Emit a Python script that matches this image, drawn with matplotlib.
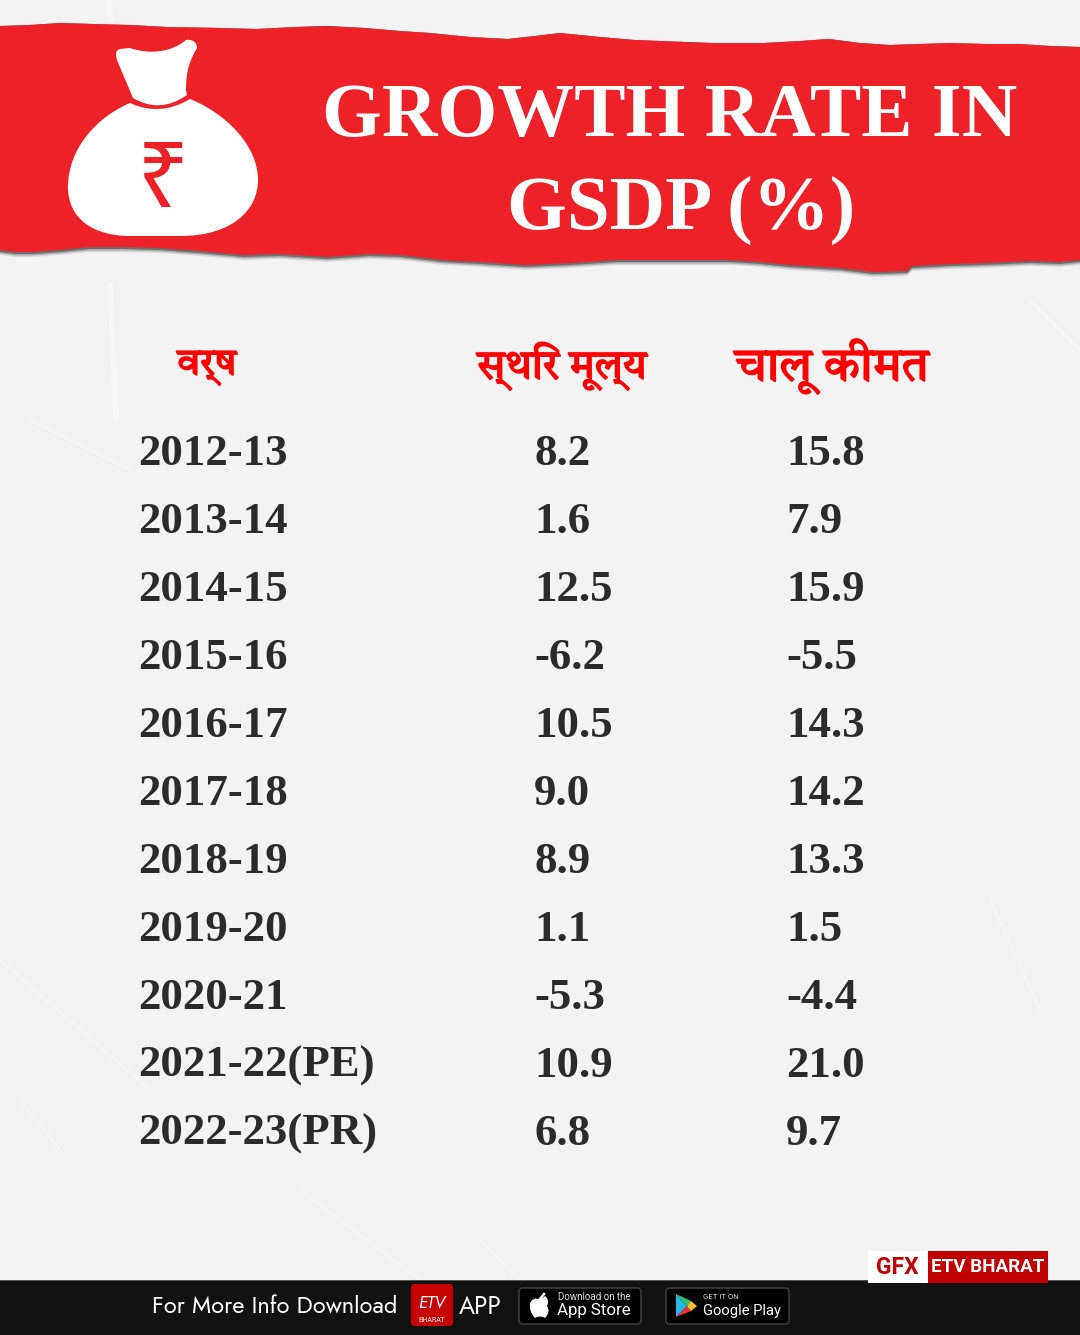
import matplotlib
matplotlib.use("Agg")
import matplotlib.pyplot as plt
import matplotlib.patheffects as pe
from matplotlib.patches import Polygon, PathPatch, Rectangle, FancyBboxPatch
from matplotlib.path import Path

# table data
years = ["2012-13", "2013-14", "2014-15", "2015-16", "2016-17", "2017-18",
         "2018-19", "2019-20", "2020-21", "2021-22(PE)", "2022-23(PR)"]
constant_price = ["8.2", "1.6", "12.5", "-6.2", "10.5", "9.0", "8.9", "1.1", "-5.3", "10.9", "6.8"]
current_price = ["15.8", "7.9", "15.9", "-5.5", "14.3", "14.2", "13.3", "1.5", "-4.4", "21.0", "9.7"]
col_headers = ["वर्ष", "स्थिर मूल्य", "चालू कीमत"]
title_lines = ["GROWTH RATE IN", "GSDP (%)"]

RED = "#ee2129"
DEVA = ["Tiro Devanagari Hindi", "Noto Sans Devanagari", "DejaVu Sans"]
SERIF = "Liberation Serif"
FUTURA = ["Jost", "Lato", "DejaVu Sans"]

fig = plt.figure(figsize=(10.8, 13.35), dpi=100, facecolor="#f3f3f3")
ax = fig.add_axes([0, 0, 1, 1])
ax.set_xlim(0, 1080)
ax.set_ylim(1335, 0)
ax.axis("off")

# faint scratches in the paper background
for x0, y0, x1, y1, w in [(0, 960, 150, 1090, 1.5), (110, 285, 116, 420, 4), (20, 1100, 60, 1150, 1.5),
                          (1030, 300, 1080, 350, 2), (300, 1190, 420, 1280, 1.5), (990, 900, 1040, 1010, 1.5),
                          (108, 0, 112, 25, 4), (30, 420, 130, 470, 1.5), (480, 1240, 520, 1281, 1.5)]:
    ax.plot([x0, x1], [y0, y1], color="#f8f8f8", lw=w, solid_capstyle="round", zorder=1)

# torn banner
top_edge = [(0, 26), (30, 25), (60, 23), (93, 24), (130, 25), (167, 27), (220, 28), (257, 29), (295, 27),
            (327, 26), (365, 28), (400, 31), (430, 33), (470, 37), (508, 39), (535, 36), (560, 33),
            (600, 37), (635, 40), (660, 41), (712, 43), (764, 43), (800, 41), (829, 39), (860, 43),
            (890, 45), (920, 44), (951, 43), (985, 44), (1020, 44), (1050, 46), (1080, 47)]
bottom_edge = [(1080, 260), (1060, 262), (1030, 261), (985, 263), (950, 264), (912, 266), (907, 271),
               (873, 272), (840, 268), (790, 265), (760, 262), (730, 260), (675, 260), (617, 260),
               (570, 263), (526, 265), (480, 262), (443, 260), (400, 255), (370, 254), (327, 257),
               (280, 254), (243, 255), (200, 251), (160, 248), (125, 247), (90, 247), (60, 250),
               (33, 252), (15, 252), (0, 250)]
for off, alpha in [(5, 0.12), (3.5, 0.25), (2, 0.45)]:
    shadow = [(x, y + off) for x, y in bottom_edge]
    ax.add_patch(Polygon(top_edge + shadow, closed=True, fc="#222222", ec="none", alpha=alpha, zorder=2))
ax.add_patch(Polygon(top_edge + bottom_edge, closed=True, fc=RED, ec="none", zorder=3))

# money bag icon
neck_verts = [(117, 60), (114, 50), (120, 49), (130, 48),
              (150, 55), (172, 52), (186, 40),
              (192, 39), (197, 42), (197, 48),
              (190, 60), (186, 70), (186, 90),
              (187, 95), (160, 114), (133, 98), (117, 60)]
neck_codes = [Path.MOVETO, Path.CURVE3, Path.CURVE3, Path.LINETO,
              Path.CURVE4, Path.CURVE4, Path.CURVE4,
              Path.CURVE4, Path.CURVE4, Path.CURVE4,
              Path.CURVE4, Path.CURVE4, Path.CURVE4,
              Path.LINETO, Path.CURVE3, Path.CURVE3, Path.CLOSEPOLY]
body_verts = [(130, 103), (160, 117), (190, 99),
              (225, 113), (258, 145), (258, 180),
              (258, 210), (232, 236), (180, 236),
              (130, 236),
              (95, 236), (68, 220), (68, 187),
              (68, 150), (95, 118), (130, 103), (130, 103)]
body_codes = [Path.MOVETO, Path.CURVE3, Path.CURVE3,
              Path.CURVE4, Path.CURVE4, Path.CURVE4,
              Path.CURVE4, Path.CURVE4, Path.CURVE4,
              Path.LINETO,
              Path.CURVE4, Path.CURVE4, Path.CURVE4,
              Path.CURVE4, Path.CURVE4, Path.CURVE4, Path.CLOSEPOLY]
ax.add_patch(PathPatch(Path(neck_verts, neck_codes), fc="white", ec="none", zorder=4))
ax.add_patch(PathPatch(Path(body_verts, body_codes), fc="white", ec="none", zorder=4))
ax.text(163, 183, "₹", color=RED, fontsize=66, family=["Noto Sans", "DejaVu Sans"],
        ha="center", va="center", zorder=5)

# title
for line, x, y in zip(title_lines, [670, 681], [136, 229]):
    ax.text(x, y, line, color="white", fontsize=55.4, family=SERIF, weight="bold",
            ha="center", va="baseline", zorder=5)

# table header
for label, x, size in zip(col_headers, [207, 562, 832], [27, 29.5, 34]):
    ax.text(x, 366, label, color="#ff0000", fontsize=size, family=DEVA,
            ha="center", va="center", zorder=5,
            path_effects=[pe.withStroke(linewidth=1.2, foreground="#ff0000")])

# table rows
for i, (year, cons, curr) in enumerate(zip(years, constant_price, current_price)):
    y = 465 + i * 68
    ax.text(138, y, year, color="#2b2b2b", fontsize=32.3, family=SERIF, weight="bold", va="baseline", zorder=5)
    ax.text(534, y, cons, color="#2b2b2b", fontsize=32.3, family=SERIF, weight="bold", va="baseline", zorder=5)
    ax.text(786, y, curr, color="#2b2b2b", fontsize=32.3, family=SERIF, weight="bold", va="baseline", zorder=5)

# footer bar
ax.add_patch(Rectangle((0, 1281), 1080, 54, fc="#121212", ec="none", zorder=4))
ax.add_patch(Rectangle((0, 1279.5), 1080, 1.5, fc="#555555", ec="none", zorder=4))
ax.text(152, 1307, "For More Info Download", color="white", fontsize=17, family=FUTURA,
        va="center", zorder=5)
ax.text(459, 1307, "APP", color="white", fontsize=17.5, family=FUTURA, va="center", zorder=5)

# ETV app badge
ax.add_patch(FancyBboxPatch((411, 1284), 42, 42, boxstyle="round,pad=0,rounding_size=3",
                            fc="#c70000", ec="none", zorder=5))
ax.text(432, 1303, "ETV", color="white", fontsize=12, style="italic", weight="bold",
        ha="center", va="center", family=FUTURA, zorder=6)
ax.text(432, 1320, "BHARAT", color="white", fontsize=4.8, ha="center", va="center", zorder=6)

# store badges
for x0, w in [(519, 122), (666, 123)]:
    ax.add_patch(FancyBboxPatch((x0, 1288), w, 36, boxstyle="round,pad=0,rounding_size=4",
                                fc="#000000", ec="#3a3a3a", lw=1.2, zorder=5))
apple = Path([(540, 1300), (534, 1296), (530, 1303), (529, 1312), (535, 1318), (540, 1315), (545, 1318), (551, 1312),
              (547, 1306), (550, 1300), (545, 1296), (540, 1300)],
             [Path.MOVETO] + [Path.CURVE3] * 10 + [Path.LINETO])
ax.add_patch(PathPatch(apple, fc="white", ec="none", zorder=6))
ax.plot([540, 544], [1299, 1294], color="white", lw=1.8, zorder=6)
ax.text(558, 1297, "Download on the", color="#dddddd", fontsize=7, family=["Roboto"], va="center", zorder=6)
ax.text(557, 1311, "App Store", color="white", fontsize=12.2, family=["Roboto"], va="center", zorder=6)
for verts, col in [([(676, 1294), (676, 1317), (687, 1306)], "#22b8e8"),
                   ([(676, 1294), (687, 1306), (691, 1301)], "#34c46b"),
                   ([(676, 1317), (687, 1306), (691, 1311)], "#e8313f"),
                   ([(691, 1301), (687, 1306), (691, 1311), (697, 1306)], "#fbc02d")]:
    ax.add_patch(Polygon(verts, closed=True, fc=col, ec="none", zorder=6))
ax.text(703, 1297, "GET IT ON", color="#dddddd", fontsize=5.6, family=["Roboto"], va="center", zorder=6)
ax.text(703, 1311, "Google Play", color="white", fontsize=10.6, family=["Roboto"], va="center", zorder=6)

# GFX tag
ax.add_patch(Rectangle((868, 1251), 60, 32, fc="white", ec="none", zorder=6))
ax.add_patch(Rectangle((928, 1251), 120, 32, fc="#c00000", ec="none", zorder=6))
ax.text(897, 1267, "GFX", color="#c00000", fontsize=16.5, family="Roboto", weight="bold",
        ha="center", va="center", zorder=7)
ax.text(988, 1267, "ETV BHARAT", color="white", fontsize=13.5, family="Roboto", weight="bold",
        ha="center", va="center", zorder=7)

fig.savefig("out.png", dpi=100, facecolor=fig.get_facecolor())
